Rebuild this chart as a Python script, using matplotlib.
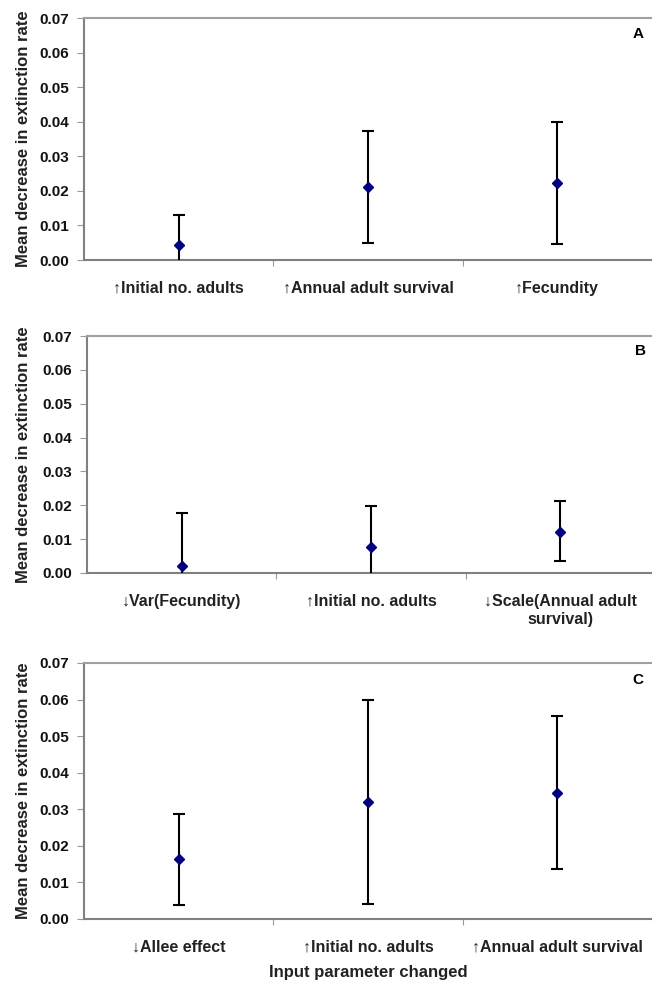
import numpy as np
import matplotlib.pyplot as plt
from matplotlib.transforms import blended_transform_factory

plt.rcParams['font.family'] = ['Liberation Sans', 'DejaVu Sans']
plt.rcParams['font.weight'] = 'bold'

# panel A
labels_a = ["\u2191Initial no. adults", "\u2191Annual adult survival", "\u2191Fecundity"]
mean_a = [0.0042, 0.0211, 0.0223]
low_a = [-0.001, 0.0050, 0.0047]
high_a = [0.0129, 0.0373, 0.0398]

# panel B
labels_b = ["\u2193Var(Fecundity)", "\u2191Initial no. adults", "\u2193Scale(Annual adult\nsurvival)"]
mean_b = [0.0022, 0.0078, 0.0122]
low_b = [-0.001, -0.001, 0.0035]
high_b = [0.0176, 0.0199, 0.0212]

# panel C
labels_c = ["\u2193Allee effect", "\u2191Initial no. adults", "\u2191Annual adult survival"]
mean_c = [0.0163, 0.0320, 0.0345]
low_c = [0.0038, 0.0041, 0.0136]
high_c = [0.0288, 0.0599, 0.0555]

W, H = 652, 981
fig = plt.figure(figsize=(W / 100, H / 100), dpi=100)

panels = [
    ("A", labels_a, mean_a, low_a, high_a, (84, 18, 260)),
    ("B", labels_b, mean_b, low_b, high_b, (87, 336, 573)),
    ("C", labels_c, mean_c, low_c, high_c, (84, 663, 919)),
]

for letter, labels, mean, low, high, (left, top, bottom) in panels:
    ax = fig.add_axes([left / W, 1 - bottom / H, 568 / W, (bottom - top) / H])
    x = np.arange(1, len(mean) + 1)
    mean = np.array(mean)
    yerr = [mean - np.array(low), np.array(high) - mean]
    ax.errorbar(x, mean, yerr=yerr, fmt='D', color='#000080', ms=5,
                ecolor='black', elinewidth=1.5, capsize=4, capthick=1.5,
                zorder=3)
    ax.set_xlim(0.5, 3.5)
    ax.set_ylim(0, 0.07)
    ax.set_yticks(np.arange(0, 0.071, 0.01))
    ax.set_yticklabels(["%.2f" % v for v in np.arange(0, 0.071, 0.01)],
                       fontsize=11, fontweight='bold', color='#111111')
    ax.set_xticks([1.5, 2.5])
    ax.set_xticklabels([])
    ax.set_xticks(x, minor=True)
    ax.set_xticklabels(labels, minor=True, fontsize=11.5, fontweight='bold',
                       color='#222222', linespacing=1.3)
    ax.tick_params(axis='x', which='minor', length=0, pad=15)
    ax.tick_params(axis='x', which='major', length=4, direction='out',
                   color='#999999')
    ax.tick_params(axis='y', length=5, direction='out', color='#999999', pad=6)
    for s in ['left', 'bottom']:
        ax.spines[s].set_color('#808080')
        ax.spines[s].set_linewidth(1.5)
    ax.spines['top'].set_color('#a0a0a0')
    ax.spines['top'].set_linewidth(1.5)
    ax.spines['right'].set_visible(False)
    ax.set_ylabel("Mean decrease in extinction rate", fontsize=12,
                  fontweight='bold', color='#222222')
    ax.yaxis.set_label_coords(31 / W, 0.5,
                              transform=blended_transform_factory(fig.transFigure, ax.transAxes))
    ax.text(0.985, 0.935, letter, transform=ax.transAxes, fontsize=11,
            fontweight='bold', ha='right', va='center')
    if letter == "C":
        ax.set_xlabel("Input parameter changed", fontsize=12,
                      fontweight='bold', labelpad=7, color='#222222')

fig.savefig("out.png", dpi=100)
